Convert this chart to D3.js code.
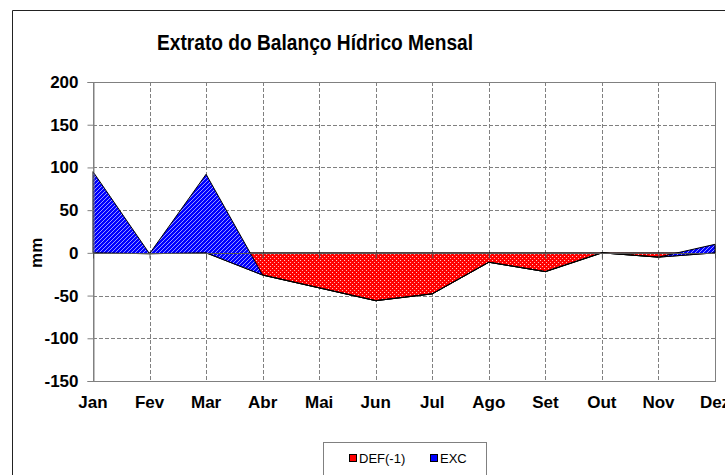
<!DOCTYPE html>
<html>
<head>
<meta charset="utf-8">
<script src="https://cdn.jsdelivr.net/npm/d3@7"></script>
<style>
  body { margin: 0; background: #fff; }
  svg { display: block; font-family: 'Liberation Sans', Arial, sans-serif; }
</style>
</head>
<body>
<div id="chart"></div>
<script>
const months = ['Jan', 'Fev', 'Mar', 'Abr', 'Mai', 'Jun', 'Jul', 'Ago', 'Set', 'Out', 'Nov', 'Dez'];
const deficit = [0, -1, 0, -26, -41, -56, -48, -11, -22, 0, -5, 0];
const excess = [95, 0, 92, 0, 0, 0, 0, 0, 0, 0, 0, 10];
const yTicks = [-150, -100, -50, 0, 50, 100, 150, 200];
const legendLabels = ['DEF(-1)', 'EXC'];
const legendColors = ['#ff0000', '#0000ff'];

const width = 725;
const height = 475;
const plot = { left: 93, right: 715, top: 82, bottom: 381 };

const rows = months.map((m, i) => ({ month: m, def: deficit[i], exc: excess[i] }));

const x = d3.scalePoint()
  .domain(months)
  .range([plot.left, plot.right]);

const y = d3.scaleLinear()
  .domain([-150, 200])
  .range([plot.bottom, plot.top]);

const svg = d3.select('#chart').append('svg')
  .attr('width', width)
  .attr('height', height)
  .attr('viewBox', [0, 0, width, height]);

/* PATTERNS (white marks over a solid fill) */

const defs = svg.append('defs');

const dots = defs.append('pattern')
  .attr('id', 'dots')
  .attr('patternUnits', 'userSpaceOnUse')
  .attr('width', 4)
  .attr('height', 4);
dots.append('circle').attr('cx', 0.5).attr('cy', 0.5).attr('r', 0.6).attr('fill', '#fff').attr('opacity', 0.8);
dots.append('circle').attr('cx', 2.5).attr('cy', 2.5).attr('r', 0.6).attr('fill', '#fff').attr('opacity', 0.8);

const hatch = defs.append('pattern')
  .attr('id', 'hatch')
  .attr('patternUnits', 'userSpaceOnUse')
  .attr('width', 4)
  .attr('height', 4);
hatch.append('path')
  .attr('d', 'M0,4 L4,0 M-1,1 L1,-1 M3,5 L5,3')
  .attr('stroke', '#fff')
  .attr('stroke-opacity', 0.75)
  .attr('stroke-width', 0.8);

/* OUTER FRAME */

svg.append('path')
  .attr('d', `M12.5,${height} V10.5 H${width}`)
  .attr('fill', 'none')
  .attr('stroke', '#222');

/* TITLE */

svg.append('text')
  .attr('x', 157)
  .attr('y', 50)
  .attr('font-size', 22)
  .attr('font-weight', 'bold')
  .attr('textLength', 316)
  .attr('lengthAdjust', 'spacingAndGlyphs')
  .text('Extrato do Balanço Hídrico Mensal');

/* GRID */

const grid = svg.append('g')
  .attr('stroke', '#808080')
  .attr('stroke-dasharray', '4,2');

grid.selectAll('.hg')
  .data(yTicks.filter((t) => t !== 0 && t !== -150 && t !== 200))
  .join('line')
  .attr('x1', plot.left)
  .attr('x2', plot.right)
  .attr('y1', (d) => Math.round(y(d)) + 0.5)
  .attr('y2', (d) => Math.round(y(d)) + 0.5);

grid.selectAll('.vg')
  .data(months.slice(1, -1))
  .join('line')
  .attr('x1', (d) => Math.round(x(d)) + 0.5)
  .attr('x2', (d) => Math.round(x(d)) + 0.5)
  .attr('y1', plot.top)
  .attr('y2', plot.bottom);

svg.append('rect')
  .attr('x', plot.left + 0.5)
  .attr('y', plot.top + 0.5)
  .attr('width', plot.right - plot.left)
  .attr('height', plot.bottom - plot.top)
  .attr('fill', 'none')
  .attr('stroke', '#808080');

/* AREAS */

const defArea = d3.area()
  .x((d) => x(d.month))
  .y0(() => y(0))
  .y1((d) => y(d.def));

const excArea = d3.area()
  .x((d) => x(d.month))
  .y0((d) => y(d.def))
  .y1((d) => y(d.def + d.exc));

const drawArea = (area, color, pattern) => {
  svg.append('path')
    .datum(rows)
    .attr('d', area)
    .attr('fill', color);
  svg.append('path')
    .datum(rows)
    .attr('d', area)
    .attr('fill', `url(#${pattern})`)
    .attr('stroke', '#000')
    .attr('stroke-width', 1);
};

drawArea(defArea, legendColors[0], 'dots');
drawArea(excArea, legendColors[1], 'hatch');

/* AXES */

const yAxis = (g) => g
  .attr('transform', `translate(${plot.left + 0.5}, 0)`)
  .call(d3.axisLeft(y)
    .tickValues(yTicks)
    .tickFormat((d) => String(d))
    .tickSize(6)
    .tickPadding(9))
  .call(() => g.select('.domain').attr('stroke', '#808080'))
  .call(() => g.selectAll('.tick line').attr('stroke', '#808080'))
  .call(() => g.selectAll('.tick text')
    .attr('font-size', 17)
    .attr('font-weight', 'bold')
    .attr('fill', '#000'));

const zeroAxis = (g) => g
  .attr('transform', `translate(0, ${Math.round(y(0)) + 0.5})`)
  .call(d3.axisBottom(x)
    .tickSize(5)
    .tickFormat(''))
  .call(() => g.select('.domain').attr('stroke', '#555').attr('d', `M${plot.left},0H${plot.right}`))
  .call(() => g.selectAll('.tick line').attr('stroke', '#555'));

const xLabels = (g) => g
  .selectAll('text')
  .data(months)
  .join('text')
  .attr('x', (d) => x(d))
  .attr('y', 408)
  .attr('text-anchor', 'middle')
  .attr('font-size', 17)
  .attr('font-weight', 'bold')
  .text((d) => d);

svg.append('g').call(yAxis);
svg.append('g').call(zeroAxis);
svg.append('g').call(xLabels);

svg.append('text')
  .attr('transform', `translate(42, ${y(0)}) rotate(-90)`)
  .attr('text-anchor', 'middle')
  .attr('font-size', 17)
  .attr('font-weight', 'bold')
  .text('mm');

/* LEGEND */

const legend = svg.append('g');

legend.append('rect')
  .attr('x', 323.5)
  .attr('y', 442.5)
  .attr('width', 163)
  .attr('height', 40)
  .attr('fill', '#fff')
  .attr('stroke', '#808080');

const legendItems = legend.selectAll('g')
  .data(legendLabels)
  .join('g')
  .attr('transform', (d, i) => `translate(${[349, 430][i]}, 458)`);

legendItems.append('rect')
  .attr('x', 0.5)
  .attr('y', -3.5)
  .attr('width', 7)
  .attr('height', 7)
  .attr('fill', (d, i) => legendColors[i])
  .attr('stroke', '#000');

legendItems.append('text')
  .attr('x', 10)
  .attr('y', 5)
  .attr('font-size', 13)
  .text((d) => d);
</script>
</body>
</html>
